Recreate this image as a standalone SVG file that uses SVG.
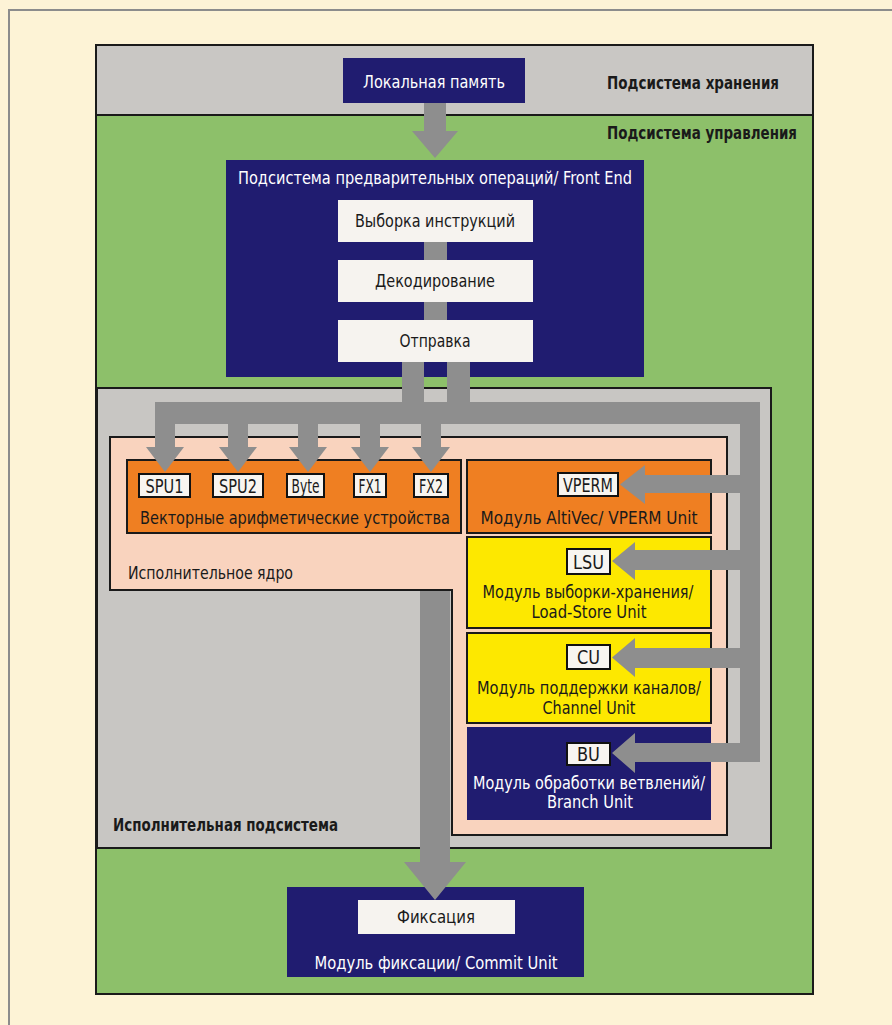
<svg xmlns="http://www.w3.org/2000/svg" width="892" height="1025" viewBox="0 0 892 1025">
<style>
.t{font-family:"Liberation Sans Narrow","DejaVu Sans Condensed","Liberation Sans",sans-serif;font-size:18px;fill:#1a1a1a;text-anchor:middle}
.w{fill:#ffffff}
.b{font-weight:bold;font-size:17px;text-anchor:start}
.lbl{font-size:19px}
.box{stroke:#1a1a1a;stroke-width:2}
.navy{fill:#201c70}
.wb{fill:#f6f3ef}
.lb{fill:#f8f5f0;stroke:#111;stroke-width:2}
.c{fill:#8e8e8e}
</style>
<rect x="0" y="0" width="892" height="1025" fill="#fdf3d6"/>
<path d="M9,1025 V10 H892" fill="none" stroke="#8c8c8c" stroke-width="2"/>

<g id="storage">
<rect class="box" x="96" y="45" width="717" height="70" fill="#c9c7c4"/>
<text class="t b" x="607" y="89" textLength="172" lengthAdjust="spacingAndGlyphs">Подсистема хранения</text>
</g>
<g id="control">
<rect class="box" x="96" y="115" width="717" height="879" fill="#8dc06a"/>
<text class="t b" x="607" y="139" textLength="190" lengthAdjust="spacingAndGlyphs">Подсистема управления</text>
</g>
<g id="local-memory">
<rect class="navy" x="343" y="58" width="182" height="45"/>
<text class="t w" x="434" y="88" textLength="142" lengthAdjust="spacingAndGlyphs">Локальная память</text>
</g>
<g id="front-end">
<rect class="navy" x="226" y="160" width="418" height="217"/>
<text class="t w" x="435" y="184" textLength="394" lengthAdjust="spacingAndGlyphs">Подсистема предварительных операций/ Front End</text>
</g>
<g id="fetch">
<rect class="wb" x="338" y="200" width="195" height="42"/>
<text class="t" x="435" y="227" textLength="160" lengthAdjust="spacingAndGlyphs">Выборка инструкций</text>
</g>
<g id="decode">
<rect class="wb" x="338" y="260" width="195" height="42"/>
<text class="t" x="435" y="287" textLength="120" lengthAdjust="spacingAndGlyphs">Декодирование</text>
</g>
<g id="dispatch">
<rect class="wb" x="338" y="320" width="195" height="42"/>
<text class="t" x="435" y="347" textLength="71" lengthAdjust="spacingAndGlyphs">Отправка</text>
</g>
<g id="exec-subsystem">
<rect class="box" x="97" y="388" width="674" height="460" fill="#c8c6c3"/>
<text class="t b" x="113" y="831" textLength="225" lengthAdjust="spacingAndGlyphs">Исполнительная подсистема</text>
</g>
<g id="exec-core">
<polygon class="box" points="110,437 727,437 727,835 452,835 452,590 110,590" fill="#f9d3be"/>
<text class="t" x="128" y="579" style="text-anchor:start" textLength="165" lengthAdjust="spacingAndGlyphs">Исполнительное ядро</text>
</g>
<g id="vector-units">
<rect class="box" x="127" y="460" width="334" height="73" fill="#ef7f22"/>
<text class="t" x="295" y="524" textLength="310" lengthAdjust="spacingAndGlyphs">Векторные арифметические устройства</text>
</g>
<g id="spu1"><rect class="lb" x="139" y="474" width="51" height="23"/><text class="t lbl" x="164.5" y="492.5" textLength="38" lengthAdjust="spacingAndGlyphs">SPU1</text></g>
<g id="spu2"><rect class="lb" x="213" y="474" width="50" height="23"/><text class="t lbl" x="238" y="492.5" textLength="38" lengthAdjust="spacingAndGlyphs">SPU2</text></g>
<g id="byte"><rect class="lb" x="287" y="474" width="37" height="23"/><text class="t lbl" x="305.5" y="492.5" textLength="28" lengthAdjust="spacingAndGlyphs">Byte</text></g>
<g id="fx1"><rect class="lb" x="354" y="474" width="32" height="23"/><text class="t lbl" x="370" y="492.5" textLength="23" lengthAdjust="spacingAndGlyphs">FX1</text></g>
<g id="fx2"><rect class="lb" x="414" y="474" width="34" height="23"/><text class="t lbl" x="431" y="492.5" textLength="24" lengthAdjust="spacingAndGlyphs">FX2</text></g>
<g id="vperm-unit">
<rect class="box" x="467" y="460" width="244" height="73" fill="#ef7f22"/>
<text class="t" x="589" y="524" textLength="217" lengthAdjust="spacingAndGlyphs">Модуль AltiVec/ VPERM Unit</text>
<rect class="lb" x="558" y="473" width="60" height="23"/><text class="t lbl" x="588" y="491.5" textLength="50" lengthAdjust="spacingAndGlyphs">VPERM</text>
</g>
<g id="lsu-unit">
<rect class="box" x="467" y="537" width="244" height="91" fill="#fde800"/>
<rect class="lb" x="567" y="549" width="43" height="25"/><text class="t lbl" x="588.5" y="568.5" textLength="31" lengthAdjust="spacingAndGlyphs">LSU</text>
<text class="t" x="588" y="598" textLength="211" lengthAdjust="spacingAndGlyphs">Модуль выборки-хранения/</text>
<text class="t" x="589" y="618" textLength="115" lengthAdjust="spacingAndGlyphs">Load-Store Unit</text>
</g>
<g id="cu-unit">
<rect class="box" x="467" y="633" width="244" height="90" fill="#fde800"/>
<rect class="lb" x="567" y="645" width="43" height="24"/><text class="t lbl" x="588.5" y="664" textLength="23" lengthAdjust="spacingAndGlyphs">CU</text>
<text class="t" x="589" y="694" textLength="224" lengthAdjust="spacingAndGlyphs">Модуль поддержки каналов/</text>
<text class="t" x="589" y="714" textLength="93" lengthAdjust="spacingAndGlyphs">Channel Unit</text>
</g>
<g id="bu-unit">
<rect class="navy" x="467" y="727" width="244" height="93"/>
<rect class="lb" x="567" y="743" width="43" height="22"/><text class="t lbl" x="588.5" y="761" textLength="23" lengthAdjust="spacingAndGlyphs">BU</text>
<text class="t w" x="589" y="789" textLength="232" lengthAdjust="spacingAndGlyphs">Модуль обработки ветвлений/</text>
<text class="t w" x="590" y="808" textLength="86" lengthAdjust="spacingAndGlyphs">Branch Unit</text>
</g>
<g id="commit-unit">
<rect class="navy" x="287" y="887" width="297" height="90"/>
<rect class="wb" x="358" y="900" width="157" height="34"/>
<text class="t" x="436" y="923" textLength="78" lengthAdjust="spacingAndGlyphs">Фиксация</text>
<text class="t w" x="436" y="969" textLength="243" lengthAdjust="spacingAndGlyphs">Модуль фиксации/ Commit Unit</text>
</g>

<g id="connectors">
<polygon class="c" points="424,103 446,103 446,131 458,131 435,158 412,131 424,131"/>
<rect class="c" x="424" y="242" width="23" height="18"/>
<rect class="c" x="424" y="302" width="23" height="18"/>
<rect class="c" x="402" y="362" width="22" height="62"/>
<rect class="c" x="447" y="362" width="23" height="62"/>
<rect class="c" x="155" y="402" width="605" height="22"/>
<rect class="c" x="740" y="402" width="20" height="360"/>
<rect class="c" x="155" y="424" width="20" height="24"/>
<polygon class="c" points="146,447 184,447 165,472"/>
<rect class="c" x="228" y="424" width="20" height="24"/>
<polygon class="c" points="219,447 257,447 238,472"/>
<rect class="c" x="298" y="424" width="20" height="24"/>
<polygon class="c" points="289,447 327,447 308,472"/>
<rect class="c" x="360" y="424" width="20" height="24"/>
<polygon class="c" points="351,447 389,447 370,472"/>
<rect class="c" x="421" y="424" width="20" height="24"/>
<polygon class="c" points="412,447 450,447 431,472"/>
<polygon class="c" points="740,475 645,475 645,465 620,484.5 645,504 645,493 740,493"/>
<polygon class="c" points="740,550 635,550 635,542 612,561 635,580 635,570 740,570"/>
<polygon class="c" points="740,648 635,648 635,638 612,657.5 635,677 635,668 740,668"/>
<polygon class="c" points="760,743 635,743 635,733 612,753 635,773 635,762 760,762"/>
<polygon class="c" points="420,591 450,591 450,862 466,862 435,900 404,862 420,862"/>
</g>
</svg>
